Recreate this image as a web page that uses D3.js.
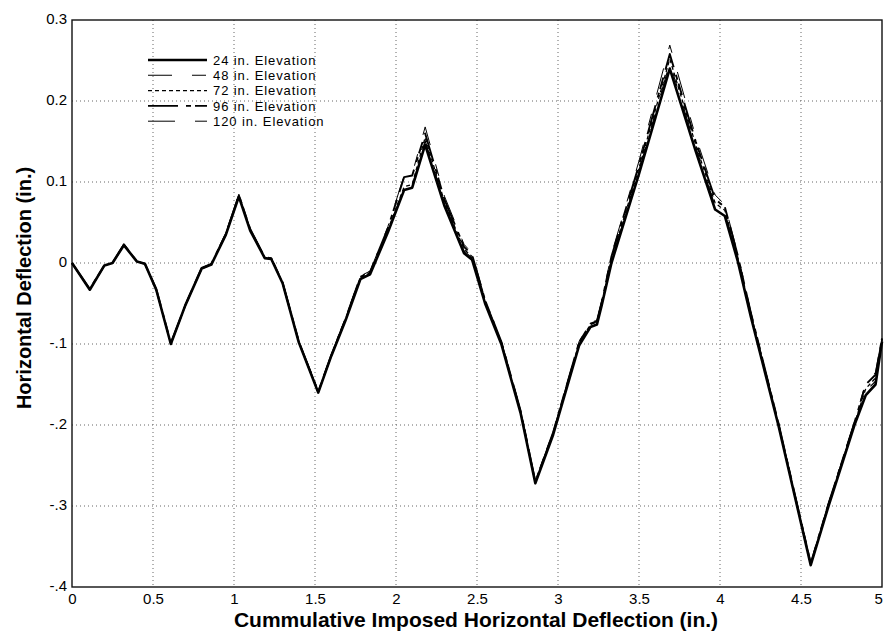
<!DOCTYPE html>
<html>
<head>
<meta charset="utf-8">
<script src="https://cdn.jsdelivr.net/npm/d3@7"></script>
<style>
  html, body { margin: 0; padding: 0; background: #fff; }
  svg { display: block; font-family: "Liberation Sans", Arial, sans-serif; }
</style>
</head>
<body>
<svg id="chart" width="885" height="632"></svg>
<script>
// ---------------- DATA ----------------
const xValues = [0, 0.11, 0.2, 0.25, 0.32, 0.4, 0.45, 0.52, 0.61, 0.7, 0.8, 0.86, 0.95, 1.03, 1.1, 1.19, 1.23, 1.3, 1.4, 1.52, 1.6, 1.69, 1.78, 1.84, 1.95, 2.05, 2.1, 2.18, 2.3, 2.42, 2.47, 2.55, 2.65, 2.77, 2.86, 2.97, 3.13, 3.2, 3.24, 3.27, 3.33, 3.5, 3.69, 3.85, 3.97, 4.03, 4.11, 4.19, 4.36, 4.56, 4.67, 4.83, 4.9, 4.96, 5.0];

const elev24 = [0, -0.033, -0.003, 0.0, 0.022, 0.002, -0.001, -0.033, -0.1, -0.052, -0.007, -0.002, 0.035, 0.082, 0.04, 0.006, 0.005, -0.025, -0.098, -0.160, -0.115, -0.070, -0.02, -0.014,
  0.038, 0.090, 0.093, 0.146, 0.070, 0.012, 0.004, -0.050, -0.100, -0.186, -0.272, -0.212, -0.102, -0.079, -0.076, -0.052, 0.000, 0.110, 0.240, 0.138, 0.066, 0.058, 0.002, -0.066, -0.200, -0.373, -0.300, -0.200, -0.163, -0.150, -0.097];
const elev48 = [0, -0.033, -0.003, 0.0, 0.022, 0.002, -0.001, -0.033, -0.100, -0.052, -0.007, -0.002, 0.035, 0.083, 0.041, 0.006, 0.005, -0.025, -0.098, -0.160, -0.115, -0.069, -0.019, -0.013,
  0.040, 0.092, 0.095, 0.151, 0.073, 0.015, 0.006, -0.048, -0.099, -0.185, -0.271, -0.211, -0.100, -0.077, -0.074, -0.050, 0.003, 0.114, 0.247, 0.143, 0.070, 0.062, 0.005, -0.064, -0.199, -0.372, -0.299, -0.199, -0.158, -0.146, -0.095];
const elev72 = [0, -0.033, -0.003, 0.0, 0.022, 0.002, -0.001, -0.033, -0.100, -0.052, -0.007, -0.002, 0.036, 0.083, 0.041, 0.007, 0.005, -0.024, -0.097, -0.159, -0.114, -0.068, -0.018, -0.012,
  0.041, 0.094, 0.097, 0.155, 0.075, 0.017, 0.008, -0.047, -0.098, -0.184, -0.271, -0.210, -0.099, -0.076, -0.073, -0.049, 0.005, 0.117, 0.252, 0.146, 0.074, 0.065, 0.007, -0.062, -0.198, -0.372, -0.298, -0.198, -0.155, -0.142, -0.094];
const elev96 = [0, -0.032, -0.003, 0.0, 0.023, 0.002, -0.001, -0.032, -0.099, -0.052, -0.006, -0.001, 0.036, 0.084, 0.042, 0.007, 0.006, -0.024, -0.097, -0.159, -0.114, -0.068, -0.017, -0.011,
  0.043, 0.106, 0.108, 0.160, 0.078, 0.020, 0.010, -0.046, -0.097, -0.183, -0.270, -0.209, -0.098, -0.075, -0.072, -0.048, 0.008, 0.121, 0.258, 0.150, 0.079, 0.069, 0.009, -0.061, -0.197, -0.371, -0.297, -0.197, -0.150, -0.138, -0.093];
const elev120 = [0, -0.032, -0.003, 0.001, 0.023, 0.003, 0.000, -0.032, -0.099, -0.051, -0.006, -0.001, 0.037, 0.085, 0.042, 0.008, 0.006, -0.023, -0.096, -0.158, -0.113, -0.067, -0.016, -0.010,
  0.045, 0.108, 0.110, 0.168, 0.082, 0.023, 0.012, -0.045, -0.096, -0.182, -0.269, -0.208, -0.097, -0.073, -0.071, -0.046, 0.011, 0.126, 0.269, 0.156, 0.084, 0.072, 0.011, -0.060, -0.196, -0.370, -0.296, -0.196, -0.147, -0.135, -0.092];

const seriesNames = ["24 in. Elevation", "48 in. Elevation", "72 in. Elevation", "96 in. Elevation", "120 in. Elevation"];
const seriesValues = [elev24, elev48, elev72, elev96, elev120];

const xTickValues = [0, 0.5, 1, 1.5, 2, 2.5, 3, 3.5, 4, 4.5, 5];
const xTickLabels = ["0", "0.5", "1", "1.5", "2", "2.5", "3", "3.5", "4", "4.5", "5"];
const yTickValues = [-0.4, -0.3, -0.2, -0.1, 0, 0.1, 0.2, 0.3];
const yTickLabels = ["-.4", "-.3", "-.2", "-.1", "0", "0.1", "0.2", "0.3"];

const xTitle = "Cummulative Imposed Horizontal Deflection (in.)";
const yTitle = "Horizontal Deflection (in.)";

// ---------------- STYLES ----------------
const lineStyles = [
  { width: 2.6, dash: null },
  { width: 1.1, dash: "24,20,14,20" },
  { width: 1.3, dash: "4,3" },
  { width: 1.9, dash: "30,8,5,4,12,8" },
  { width: 1.0, dash: "27,20,12,20" }
];

// ---------------- CHART ----------------
const svg = d3.select("#chart");
const L = 72, R = 882, T = 20, B = 587;

const x = d3.scaleLinear().domain([0, 5]).range([L, R]);
const y = d3.scaleLinear().domain([-0.4, 0.3]).range([B, T]);

// grid
const grid = svg.append("g").attr("stroke", "#666").attr("stroke-width", 1).attr("stroke-dasharray", "1,3");
grid.selectAll("line.gx").data(xTickValues.slice(1, -1)).enter().append("line")
  .attr("x1", d => x(d)).attr("x2", d => x(d)).attr("y1", T).attr("y2", B);
grid.selectAll("line.gy").data(yTickValues.slice(1, -1)).enter().append("line")
  .attr("y1", d => y(d)).attr("y2", d => y(d)).attr("x1", L).attr("x2", R);

// axes labels
const xAxis = d3.axisBottom(x).tickValues(xTickValues).tickSize(0).tickPadding(6)
  .tickFormat((d, i) => xTickLabels[i]);
const gx = svg.append("g").attr("transform", `translate(0,${B})`).call(xAxis);
gx.select(".domain").remove();
gx.selectAll("text").attr("font-size", 15).attr("fill", "#000")
  .attr("font-family", "'Liberation Sans', Arial, sans-serif")
  .attr("dx", (d, i) => i === xTickValues.length - 1 ? "-0.25em" : 0);

const yAxis = d3.axisLeft(y).tickValues(yTickValues).tickSize(0).tickPadding(5)
  .tickFormat((d, i) => yTickLabels[i]);
const gy = svg.append("g").attr("transform", `translate(${L},0)`).call(yAxis);
gy.select(".domain").remove();
gy.selectAll("text").attr("font-size", 15).attr("fill", "#000").attr("dy", "0.2em")
  .attr("font-family", "'Liberation Sans', Arial, sans-serif");

// frame
svg.append("rect").attr("x", L).attr("y", T).attr("width", R - L).attr("height", B - T)
  .attr("fill", "none").attr("stroke", "#111").attr("stroke-width", 1.4);

// lines
const line = d3.line().x((d, i) => x(xValues[i])).y(d => y(d)).curve(d3.curveLinear);
const gl = svg.append("g");
seriesValues.forEach((vals, k) => {
  gl.append("path").datum(vals).attr("d", line)
    .attr("fill", "none").attr("stroke", "#000")
    .attr("stroke-width", lineStyles[k].width)
    .attr("stroke-linejoin", "round")
    .attr("stroke-dasharray", lineStyles[k].dash);
});

// legend
const lg = svg.append("g");
seriesNames.forEach((name, k) => {
  const yy = 60 + k * 15.3;
  lg.append("line").attr("x1", 148).attr("x2", 207).attr("y1", yy).attr("y2", yy)
    .attr("stroke", "#000").attr("stroke-width", lineStyles[k].width)
    .attr("stroke-dasharray", lineStyles[k].dash);
  lg.append("text").attr("x", 213).attr("y", yy).attr("dy", "0.36em")
    .attr("font-size", 13).attr("letter-spacing", "0.9px").attr("fill", "#000").text(name);
});

// titles
svg.append("text").attr("x", 476).attr("y", 627).attr("text-anchor", "middle")
  .attr("font-size", 21).attr("font-weight", "bold").attr("fill", "#000").text(xTitle);
svg.append("text").attr("transform", "translate(31,288) rotate(-90)").attr("text-anchor", "middle")
  .attr("font-size", 20).attr("font-weight", "bold").attr("fill", "#000").text(yTitle);
</script>
</body>
</html>
